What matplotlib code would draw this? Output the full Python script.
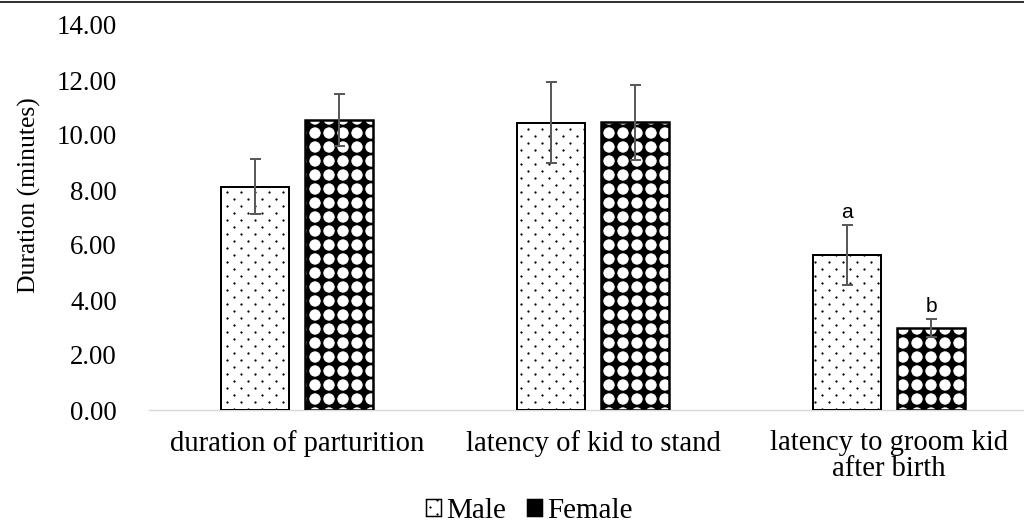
import matplotlib
matplotlib.use("Agg")
import matplotlib.pyplot as plt
import matplotlib.hatch as mhatch
from matplotlib.path import Path
from matplotlib.patches import Patch
from matplotlib.lines import Line2D
import numpy as np

categories = ["duration of parturition", "latency of kid to stand", "latency to groom kid\nafter birth"]
male = [8.12, 10.45, 5.64]
female = [10.55, 10.46, 2.97]
male_err = [1.0, 1.48, 1.08]
female_err = [0.95, 1.37, 0.33]
letters_male = ["", "", "a"]
letters_female = ["", "", "b"]
yticks = [0, 2, 4, 6, 8, 10, 12, 14]

DPI = 84
PX = 72.0 / DPI  # points per pixel
serif = ['Liberation Serif', 'DejaVu Serif']
sans = ['Liberation Sans', 'DejaVu Sans']


# ---- fill patterns resembling the reference (square-grid discs, staggered small dots)
class _GridShapes(mhatch.HatchPatternBase):
    char = 'O'
    radius = 0.40
    offsets = [(0.5, 0.5)]

    def __init__(self, hatch, density):
        cnt = hatch.count(self.char)
        self.n = int(density) * cnt if cnt else 0
        circ = Path.unit_circle()
        self.cv = circ.vertices
        self.cc = circ.codes
        self.num_vertices = self.n * self.n * len(self.offsets) * len(self.cv)

    def set_vertices_and_codes(self, vertices, codes):
        k = len(self.cv)
        cell = 1.0 / self.n
        idx = 0
        for i in range(self.n):
            for j in range(self.n):
                for ox, oy in self.offsets:
                    vertices[idx:idx + k] = self.cv * self.radius * cell + [(i + ox) * cell, (j + oy) * cell]
                    codes[idx:idx + k] = self.cc
                    idx += k


class _BigDiscs(_GridShapes):
    char = 'O'
    radius = 0.37
    offsets = [(0.5, 0.5)]


class _FineDots(_GridShapes):
    char = '.'
    radius = 0.045
    offsets = [(0.25, 0.25), (0.75, 0.75)]


mhatch._hatch_types = [t for t in mhatch._hatch_types
                       if t.__name__ not in ('LargeCircles', 'SmallFilledCircles')] + [_BigDiscs, _FineDots]
plt.rcParams['hatch.linewidth'] = 0.8

fig = plt.figure(figsize=(1024 / DPI, 525 / DPI), dpi=DPI)
ax = fig.add_axes([149/1024, 1-410/525, 1-149/1024, 385/525])

x = np.arange(len(categories))
w = 0.23
off = 0.142
errc = '#595959'

# male bars
ax.bar(x - off, male, w, facecolor='white', edgecolor='black', hatch='.', linewidth=0, zorder=2)
ax.bar(x - off, male, w, facecolor='none', edgecolor='black', linewidth=2 * PX, zorder=3)
# female bars
ax.bar(x + off, female, w, facecolor='black', edgecolor='white', hatch='O', linewidth=0, zorder=2)
ax.bar(x + off, female, w, facecolor='none', edgecolor='black', linewidth=2.5 * PX, zorder=3)

ax.errorbar(x - off, male, yerr=male_err, fmt='none', ecolor=errc, elinewidth=2 * PX,
            capsize=5.5 * PX, capthick=2 * PX, zorder=4)
ax.errorbar(x + off, female, yerr=female_err, fmt='none', ecolor=errc, elinewidth=2 * PX,
            capsize=5.5 * PX, capthick=2 * PX, zorder=4)

for i in range(len(categories)):
    if letters_male[i]:
        ax.text(x[i] - off, male[i] + male_err[i] + 0.13, letters_male[i], ha='center', va='bottom',
                fontsize=18, family=sans)
    if letters_female[i]:
        ax.text(x[i] + off, female[i] + female_err[i] + 0.13, letters_female[i], ha='center', va='bottom',
                fontsize=18, family=sans)

ax.set_xlim(-0.5, (1024 - 297) / 296)
ax.set_ylim(0, 14)
ax.set_yticks(yticks)
ax.set_yticklabels([f"{v:.2f}" for v in yticks], family=serif, fontsize=23)
ax.set_xticks(x)
ax.set_xticklabels(categories, family=serif, fontsize=24.5, linespacing=1.0)
ax.tick_params(axis='x', length=0, pad=20 * PX)
ax.tick_params(axis='y', length=0, pad=32 * PX)
for s in ['top', 'right', 'left']:
    ax.spines[s].set_visible(False)
ax.spines['bottom'].set_color('#d9d9d9')
ax.spines['bottom'].set_linewidth(1.5 * PX)
ax.set_ylabel("Duration (minutes)", family=serif, fontsize=22)
ax.yaxis.set_label_coords((41 - 149) / 875, (410 - 195) / 385)

handles = [Patch(facecolor='white', edgecolor='black', hatch='.', linewidth=1.5 * PX),
           Patch(facecolor='black', edgecolor='black', hatch='O', linewidth=1.5 * PX)]
leg = fig.legend(handles, ["Male", "Female"], loc='center', bbox_to_anchor=(0.517, 0.027), ncol=2,
                 frameon=False, prop={'family': serif, 'size': 25}, handlelength=0.52, handleheight=0.52,
                 handletextpad=0.17, columnspacing=0.72)

fig.add_artist(Line2D([0, 1], [0.997, 0.997], transform=fig.transFigure, color='#333333', linewidth=2 * PX))

fig.savefig("out.png", dpi=DPI)
